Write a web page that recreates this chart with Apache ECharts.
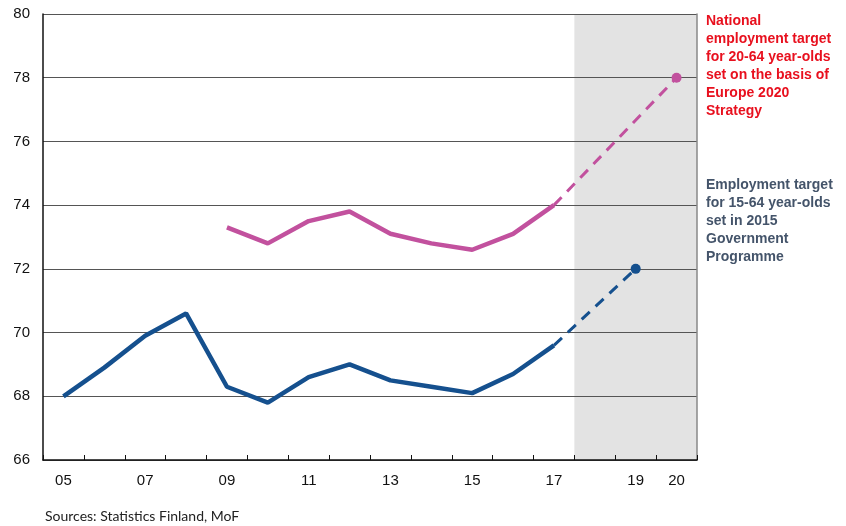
<!DOCTYPE html>
<html><head><meta charset="utf-8">
<script src="https://cdn.jsdelivr.net/npm/echarts@6/dist/echarts.min.js"></script>
<style>html,body{margin:0;padding:0;background:#fff}#c{width:846px;height:526px}</style>
</head><body><div id="c"></div>
<script>
const years = ['05','06','07','08','09','10','11','12','13','14','15','16','17','18','19','20'];
const age15_64 = [68.0,68.9,69.9,70.6,68.3,67.8,68.6,69.0,68.5,68.3,68.1,68.7,69.6,null,null,null];
const age15_64Target = [null,null,null,null,null,null,null,null,null,null,null,null,69.6,null,72.0,null];
const age20_64 = [null,null,null,null,73.3,72.8,73.5,73.8,73.1,72.8,72.6,73.1,74.0,null,null,null];
const age20_64Target = [null,null,null,null,null,null,null,null,null,null,null,null,74.0,null,null,78.0];
const yTicks = [66,68,70,72,74,76,78,80];
const forecastStart = '18';
const labelText20 = ['National','employment target','for 20-64 year-olds','set on the basis of','Europe 2020','Strategy'];
const labelText15 = ['Employment target','for 15-64 year-olds','set in 2015','Government','Programme'];
const source = 'Sources: Statistics Finland, MoF';

const BLUE = '#15508e', PINK = '#c2519e';
const lastIdx = arr => { let k=-1; arr.forEach((v,i)=>{ if(v!=null) k=i; }); return k; };
const dotSize = arr => { const L = lastIdx(arr); return (v, p) => p.dataIndex === L ? 10 : 0; };
const bandStart = years.indexOf(forecastStart), bandEnd = years.length;

const chart = echarts.init(document.getElementById('c'), null, {renderer:'canvas'});
chart.setOption({
  animation:false,
  grid:{left:43,right:149,top:14,bottom:66,show:false},
  xAxis:[{
    type:'category', data:years, boundaryGap:true, z:2,
    axisLine:{lineStyle:{color:'#111',width:1.5}},
    axisTick:{show:true,inside:true,length:5,interval:0,lineStyle:{color:'#111'}},
    axisLabel:{interval:(i)=> i%2===0 || i===years.length-1, color:'#111',fontFamily:'Liberation Sans',fontSize:15,margin:13},
    splitLine:{show:false}
  },{
    type:'value', min:0, max:years.length, show:false
  }],
  yAxis:[{
    type:'value', min:yTicks[0], max:yTicks[yTicks.length-1], interval:2, z:2,
    axisLine:{show:true,lineStyle:{color:'#111',width:1.5}},
    axisTick:{show:false},
    axisLabel:{color:'#111',fontFamily:'Liberation Sans',fontSize:15,margin:13},
    splitLine:{show:true,lineStyle:{color:'#555',width:1.2}}
  },{
    type:'value', min:yTicks[0], max:yTicks[yTicks.length-1], interval:2, position:'right', z:2,
    axisLine:{show:true,lineStyle:{color:'#888',width:1.5}},
    axisTick:{show:false}, axisLabel:{show:false}, splitLine:{show:false}
  }],
  series:[
    {type:'line', xAxisIndex:1, data:[], symbol:'none', z:1,
     markArea:{silent:true,z:1,itemStyle:{color:'#e3e3e3'},data:[[{xAxis:bandStart},{xAxis:bandEnd}]]}},
    {type:'line', data:age15_64, symbol:'none', lineStyle:{color:BLUE,width:4.5}, z:3},
    {type:'line', data:age15_64Target, connectNulls:true, symbol:'circle', symbolSize:dotSize(age15_64Target),
     itemStyle:{color:BLUE}, lineStyle:{color:BLUE,width:3,type:[11,8]}, z:3},
    {type:'line', data:age20_64, symbol:'none', lineStyle:{color:PINK,width:4.5}, z:3},
    {type:'line', data:age20_64Target, connectNulls:true, symbol:'circle', symbolSize:dotSize(age20_64Target),
     itemStyle:{color:PINK}, lineStyle:{color:PINK,width:3,type:[11,8]}, z:3}
  ],
  graphic:[
    {type:'text', left:706, top:12, style:{text:labelText20.join('\n'), fill:'#e8101e', font:'bold 14px "Liberation Sans"', lineHeight:18}},
    {type:'text', left:706, top:176, style:{text:labelText15.join('\n'), fill:'#44546a', font:'bold 14px "Liberation Sans"', lineHeight:18}},
    {type:'text', left:45, top:509, style:{text:source, fill:'#222', font:'14px Lato'}}
  ]
});
</script></body></html>
